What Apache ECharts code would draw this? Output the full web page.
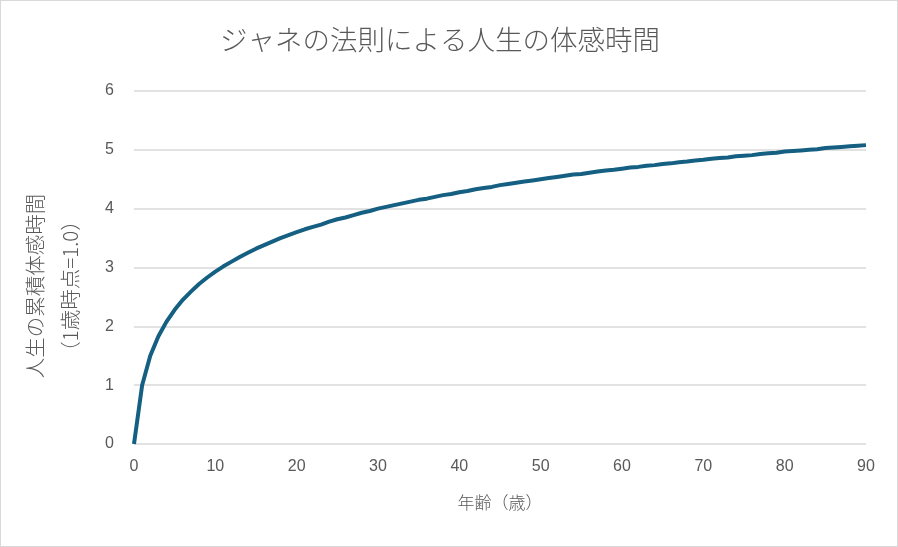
<!DOCTYPE html>
<html lang="ja">
<head>
    <meta charset="UTF-8">
    <title>ジャネの法則による人生の体感時間</title>
    <script src="https://cdn.jsdelivr.net/npm/echarts@6/dist/echarts.min.js"></script>
    <style>
        * { margin: 0; padding: 0; box-sizing: border-box; }
        html, body { width: 898px; height: 547px; background: #fff; }
        #chart {
            width: 898px;
            height: 547px;
            border: 1px solid #d9d9d9;
        }
    </style>
</head>
<body>
    <div id="chart"></div>

    <script>
        // 年齢（歳）0〜90
        const ages = [
            0, 1, 2, 3, 4, 5, 6, 7, 8, 9,
            10, 11, 12, 13, 14, 15, 16, 17, 18, 19,
            20, 21, 22, 23, 24, 25, 26, 27, 28, 29,
            30, 31, 32, 33, 34, 35, 36, 37, 38, 39,
            40, 41, 42, 43, 44, 45, 46, 47, 48, 49,
            50, 51, 52, 53, 54, 55, 56, 57, 58, 59,
            60, 61, 62, 63, 64, 65, 66, 67, 68, 69,
            70, 71, 72, 73, 74, 75, 76, 77, 78, 79,
            80, 81, 82, 83, 84, 85, 86, 87, 88, 89,
            90
        ];
        // 累積体感時間（1歳時点=1.0）
        const feltTime = [
            0.00, 1.00, 1.50, 1.83, 2.08, 2.28, 2.45, 2.59, 2.72, 2.83,
            2.93, 3.02, 3.10, 3.18, 3.25, 3.32, 3.38, 3.44, 3.50, 3.55,
            3.60, 3.65, 3.69, 3.73, 3.78, 3.82, 3.85, 3.89, 3.93, 3.96,
            4.00, 4.03, 4.06, 4.09, 4.12, 4.15, 4.17, 4.20, 4.23, 4.25,
            4.28, 4.30, 4.33, 4.35, 4.37, 4.40, 4.42, 4.44, 4.46, 4.48,
            4.50, 4.52, 4.54, 4.56, 4.58, 4.59, 4.61, 4.63, 4.65, 4.66,
            4.68, 4.70, 4.71, 4.73, 4.74, 4.76, 4.77, 4.79, 4.80, 4.82,
            4.83, 4.85, 4.86, 4.87, 4.89, 4.90, 4.91, 4.93, 4.94, 4.95,
            4.97, 4.98, 4.99, 5.00, 5.01, 5.03, 5.04, 5.05, 5.06, 5.07,
            5.08
        ];
        const titleText = 'ジャネの法則による人生の体感時間';
        const xName = '年齢（歳）';
        const yNameLines = ['人生の累積体感時間', '（1歳時点=1.0）'];

        const font = '"Noto Sans CJK JP", "Noto Sans", sans-serif';
        const grey = '#595959';

        const chart = echarts.init(document.getElementById('chart'));
        chart.setOption({
            animation: false,
            textStyle: { fontFamily: font },
            title: {
                text: titleText,
                left: 214,
                top: 20,
                textStyle: { color: grey, fontSize: 27.5, fontWeight: 300, fontFamily: font }
            },
            grid: { left: 133, right: 31, top: 90, bottom: 102 },
            xAxis: {
                type: 'value',
                min: 0, max: 90, interval: 10,
                name: xName,
                nameLocation: 'middle',
                nameGap: 50,
                nameTextStyle: { color: grey, fontSize: 17, fontWeight: 300, fontFamily: font },
                axisLine: { show: false },
                axisTick: { show: false },
                splitLine: { show: false },
                axisLabel: { color: grey, fontSize: 16, margin: 15, fontFamily: 'Liberation Sans' }
            },
            yAxis: {
                type: 'value',
                min: 0, max: 6, interval: 1,
                axisLine: { show: false },
                axisTick: { show: false },
                splitLine: { lineStyle: { color: '#d9d9d9', width: 1.5 } },
                axisLabel: { color: grey, fontSize: 16, margin: 20, fontFamily: 'Liberation Sans' }
            },
            graphic: [{
                type: 'text',
                x: 52,
                y: 285,
                rotation: Math.PI / 2,
                style: {
                    text: yNameLines.join('\n'),
                    fill: grey,
                    font: '300 20.5px ' + font,
                    lineHeight: 35,
                    align: 'center',
                    verticalAlign: 'middle'
                }
            }],
            series: [{
                type: 'line',
                data: ages.map((a, i) => [a, feltTime[i]]),
                showSymbol: false,
                lineStyle: { color: '#156082', width: 4 },
                itemStyle: { color: '#156082' }
            }]
        });
    </script>
</body>
</html>
